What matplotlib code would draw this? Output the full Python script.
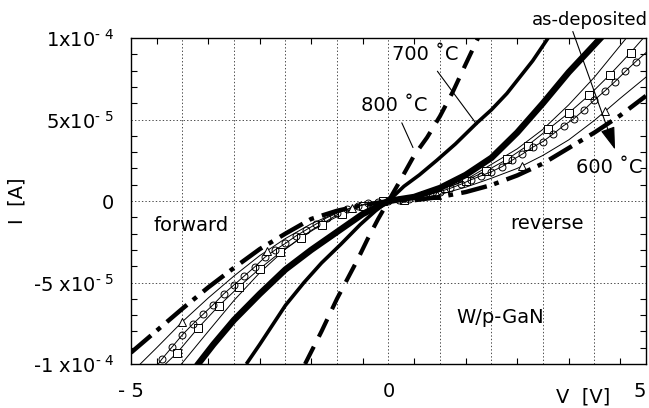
import numpy as np
import matplotlib
matplotlib.use('Agg')
import matplotlib.pyplot as plt
from matplotlib.ticker import MultipleLocator

plt.rcParams['font.family'] = ['DejaVu Sans']
plt.rcParams['mathtext.fontset'] = 'dejavusans'
plt.rcParams['lines.scale_dashes'] = False

E = 1e-5  # currents below are in units of 1e-5 A

# 800 C (dashed)
v_800 = [-1.62, -1.3, -1.0, -0.8, -0.6, -0.4, -0.2, 0.0, 0.2, 0.5, 0.75, 1.0, 1.25, 1.5, 1.74]
i_800 = [-10.0, -8.0, -6.0, -4.8, -3.6, -2.3, -1.1, 0.0, 1.1, 2.8, 3.9, 5.2, 6.7, 8.4, 10.0]

# 700 C (solid)
v_700 = [-2.76, -2.5, -2.0, -1.64, -1.3, -0.93, -0.55, -0.25, 0.0, 0.3, 0.6, 0.94, 1.3, 1.72, 2.0, 2.3, 2.55, 2.8, 3.1]
i_700 = [-10.0, -8.8, -6.4, -5.0, -3.8, -2.67, -1.45, -0.6, 0.0, 0.9, 1.6, 2.5, 3.5, 4.8, 5.6, 6.6, 7.6, 8.6, 10.0]

# heavy solid curve
v_bold = [-3.72, -3.4, -3.0, -2.5, -2.0, -1.5, -1.0, -0.5, 0.0, 0.5, 1.0, 1.5, 2.0, 2.5, 3.0, 3.5, 4.15]
i_bold = [-10.1, -8.8, -7.3, -5.7, -4.2, -3.0, -1.9, -0.8, 0.0, 0.25, 0.8, 1.6, 2.65, 4.2, 6.0, 7.9, 10.1]

# 600 C (dash-dot)
v_600 = [-5.0, -4.5, -4.0, -3.5, -3.0, -2.5, -2.0, -1.5, -1.0, -0.5, 0.0, 0.5, 1.0, 1.5, 2.0, 2.5, 3.0, 3.5, 4.0, 4.5, 5.0]
i_600 = [-9.3, -7.95, -6.6, -5.3, -4.1, -2.95, -2.0, -1.1, -0.6, -0.25, 0.0, 0.05, 0.25, 0.55, 0.98, 1.57, 2.3, 3.25, 4.2, 5.25, 6.45]

# as-deposited family (thin lines)
v_thin = [-4.02, -3.5, -3.0, -2.5, -2.0, -1.5, -1.0, -0.5, 0.0, 0.5, 1.0, 1.5, 2.0, 2.5, 3.0, 3.5, 4.0, 4.62]
i_thin = [-10.0, -8.0, -6.1, -4.4, -2.95, -1.8, -0.85, -0.25, 0.0, 0.15, 0.6, 1.3, 2.25, 3.2, 4.4, 5.9, 7.6, 10.0]

v_sq = [-4.33, -4.1, -3.7, -3.3, -2.9, -2.5, -2.1, -1.7, -1.3, -0.9, -0.5, -0.1, 0.3, 0.7, 1.1, 1.5, 1.9, 2.3, 2.7, 3.1, 3.5, 3.9, 4.3, 4.7, 4.95]
i_sq = [-10.0, -9.3, -7.8, -6.45, -5.25, -4.15, -3.15, -2.25, -1.45, -0.8, -0.3, -0.02, 0.08, 0.38, 0.8, 1.25, 1.85, 2.55, 3.4, 4.4, 5.4, 6.5, 7.75, 9.1, 10.0]

v_circ = [-4.47, -4.4, -4.2, -4.0, -3.8, -3.6, -3.4, -3.2, -3.0, -2.8, -2.6, -2.4, -2.2, -2.0, -1.8, -1.6, -1.4, -1.2,
          -1.0, -0.8, -0.6, -0.4, -0.2, 0.0, 0.2, 0.4, 0.6, 0.8, 1.0, 1.2, 1.4, 1.6, 1.8, 2.0, 2.2, 2.4, 2.6, 2.8,
          3.0, 3.2, 3.4, 3.6, 3.8, 4.0, 4.2, 4.4, 4.6, 4.8, 5.0]
i_circ = [-10.0, -9.7, -8.95, -8.2, -7.55, -6.95, -6.35, -5.7, -5.15, -4.6, -4.05, -3.45, -3.0, -2.6, -2.15, -1.77, -1.4, -1.03,
          -0.75, -0.5, -0.3, -0.15, -0.05, 0.0, 0.04, 0.12, 0.25, 0.4, 0.58, 0.78, 1.02, 1.3, 1.55, 1.8, 2.1, 2.5, 2.88, 3.3,
          3.65, 4.12, 4.62, 5.05, 5.6, 6.2, 6.75, 7.33, 7.95, 8.55, 9.1]

v_tri_line = [-4.82, -4.5, -4.0, -3.5, -3.0, -2.5, -2.0, -1.5, -1.0, -0.5, 0.0, 0.5, 1.0, 1.5, 2.0, 2.5, 3.0, 3.5, 4.0, 4.5, 5.0]
i_tri_line = [-10.0, -9.0, -7.4, -5.95, -4.6, -3.35, -2.3, -1.4, -0.7, -0.25, 0.0, 0.12, 0.4, 0.85, 1.4, 2.0, 2.8, 3.75, 4.95, 6.3, 7.6]
v_tri = [-4.0, -2.35, -0.7, 0.95, 2.6, 4.2]
i_tri = [-7.4, -3.05, -0.4, 0.37, 2.15, 5.5]

def a(vals):
    return np.array(vals) * E

fig = plt.figure(figsize=(6.49, 4.08), dpi=100)
ax = fig.add_axes([0.2018, 0.1078, 0.7935, 0.7990])

# thin family
ax.plot(v_thin, a(i_thin), color='k', lw=0.7)
ax.plot(v_sq, a(i_sq), color='k', lw=0.7)
ax.plot(v_sq[1:-1], a(i_sq[1:-1]), ls='none', marker='s', ms=5.5, mfc='white', mec='k', mew=0.7)
ax.plot(v_circ, a(i_circ), color='k', lw=0.7, marker='o', ms=5, mfc='none', mec='k', mew=0.7,
        markevery=slice(1, -1))
ax.plot(v_tri_line, a(i_tri_line), color='k', lw=0.7)
ax.plot(v_tri, a(i_tri), ls='none', marker='^', ms=5.5, mfc='white', mec='k', mew=0.7)

# annealed curves
ax.plot(v_600, a(i_600), color='k', lw=3.2, dashes=(19, 5.5, 3.5, 6), dash_capstyle='butt')
ax.plot(v_bold, a(i_bold), color='k', lw=4.6, solid_capstyle='butt')
ax.plot(v_700, a(i_700), color='k', lw=2.6, solid_capstyle='butt')
ax.plot(v_800, a(i_800), color='k', lw=3.0, dashes=(14, 8), dash_capstyle='butt')

ax.set_xlim(-5, 5)
ax.set_ylim(-1e-4, 1e-4)

ax.set_xticks(range(-5, 6))
ax.set_xticklabels(['- 5', '', '', '', '', '0', '', '', '', '', '5'])
ax.get_xticklabels()[-1].set_ha('right')
ax.set_yticks([-1e-4, -5e-5, 0, 5e-5, 1e-4])
ax.set_yticklabels(['-1 x10$^{‐\\ 4}$', '-5 x10$^{‐\\ 5}$', '0', '5x10$^{‐\\ 5}$', '1x10$^{‐\\ 4}$'])
ax.xaxis.set_minor_locator(MultipleLocator(0.5))
ax.yaxis.set_minor_locator(MultipleLocator(1e-5))
ax.tick_params(which='major', length=0, labelsize=14)
ax.tick_params(axis='x', which='major', pad=13)
ax.tick_params(axis='y', which='major', pad=12)
ax.tick_params(which='minor', direction='in', length=4, width=0.8,
               top=True, bottom=True, left=True, right=True)
ax.grid(True, which='major', ls=(0, (1, 1.5)), lw=0.7, color='0.3')
for s in ax.spines.values():
    s.set_linewidth(1.0)

fig.text(17 / 649, 1 - 201 / 408, 'I  [A]', rotation=90, ha='center', va='center', fontsize=14)
fig.text(583 / 649, 1 - 397 / 408, 'V  [V]', ha='center', va='center', fontsize=14)

ax.text(-3.83, -1.5 * E, 'forward', ha='center', va='center', fontsize=14)
ax.text(3.08, -1.38 * E, 'reverse', ha='center', va='center', fontsize=14)
ax.text(2.17, -7.15 * E, 'W/p-GaN', ha='center', va='center', fontsize=14)
ax.text(4.28, 2.06 * E, '600 ˚C', ha='center', va='center', fontsize=14)
ax.text(3.91, 11.13 * E, 'as-deposited', ha='center', va='center', fontsize=13, clip_on=False)

ax.annotate('800 ˚C', xy=(0.476, 3.28 * E), xytext=(0.107, 5.86 * E), ha='center', va='center',
            fontsize=14, arrowprops=dict(arrowstyle='-', lw=0.8, color='k', shrinkA=4, shrinkB=0))
ax.annotate('700 ˚C', xy=(1.718, 4.69 * E), xytext=(0.709, 8.99 * E), ha='center', va='center',
            fontsize=14, arrowprops=dict(arrowstyle='-', lw=0.8, color='k', shrinkA=4, shrinkB=0))
ax.annotate('', xy=(4.40, 3.16 * E), xytext=(3.58, 10.4 * E), annotation_clip=False,
            arrowprops=dict(arrowstyle='-|>,head_length=1.4,head_width=0.45', lw=0.8, color='k',
                            shrinkA=0, shrinkB=0))

fig.savefig('out.png', dpi=100)
